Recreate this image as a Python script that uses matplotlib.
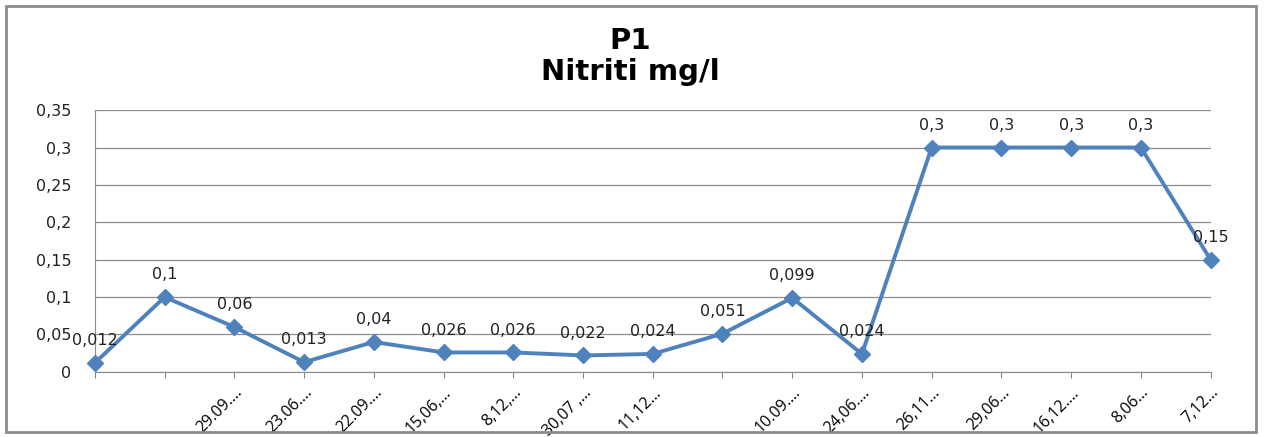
import matplotlib.pyplot as plt
from matplotlib.patches import Rectangle
from matplotlib.ticker import FuncFormatter
import numpy as np

# dati: nitriti al punto P1
dates = ["", "", "29.09....", "23.06....", "22.09....", "15,06,...", "8,12,...",
         "30,07 ,...", "11,12...", "", "10.09....", "24,06....", "26,11...",
         "29,06...", "16,12....", "8,06...", "7,12..."]
values = [0.012, 0.1, 0.06, 0.013, 0.04, 0.026, 0.026, 0.022, 0.024,
          0.051, 0.099, 0.024, 0.3, 0.3, 0.3, 0.3, 0.15]
yticks = [0, 0.05, 0.1, 0.15, 0.2, 0.25, 0.3, 0.35]


def comma(v):
    s = ("%.3f" % v).rstrip("0").rstrip(".")
    return s.replace(".", ",")


fig = plt.figure(figsize=(12.65, 4.37), dpi=100)
ax = fig.add_axes([0.075, 0.149, 0.882, 0.599])

x = np.arange(len(values))
ax.plot(x, values, color="#4F81BD", linewidth=2.8, marker="D", markersize=8.5,
        markeredgecolor="#4F81BD", zorder=3, clip_on=False)

for xi, v in zip(x, values):
    ax.annotate(comma(v), (xi, v), xytext=(0, 16), textcoords="offset points",
                ha="center", va="center", fontsize=11.5, color="#222222",
                family="DejaVu Sans")

ax.set_xlim(0, len(values) - 1)
ax.set_ylim(0, 0.35)
ax.set_yticks(yticks)
ax.yaxis.set_major_formatter(FuncFormatter(lambda v, p: comma(v)))
ax.set_xticks(x)
ax.set_xticklabels(dates, rotation=45, ha="right", rotation_mode="anchor",
                   fontsize=11.5, family="Open Sans")
ax.tick_params(axis="y", length=0, labelsize=11.5, pad=17, colors="#222222")
ax.tick_params(axis="x", length=4, color="#888888", pad=5)
ax.grid(axis="y", color="#8c8c8c", linewidth=0.9)
ax.set_axisbelow(True)
for s in ["top", "right"]:
    ax.spines[s].set_visible(False)
ax.spines["left"].set_color("#8c8c8c")
ax.spines["bottom"].set_color("#8c8c8c")

fig.text(0.498, 0.87, "P1\nNitriti mg/l", ha="center", va="center",
         fontsize=21, fontweight="bold", family="DejaVu Sans", linespacing=1.12)

fig.patches.append(Rectangle((0.005, 0.012), 0.988, 0.975, transform=fig.transFigure,
                             fill=False, edgecolor="#8c8c8c", linewidth=2))

fig.savefig("out.png", dpi=100)
